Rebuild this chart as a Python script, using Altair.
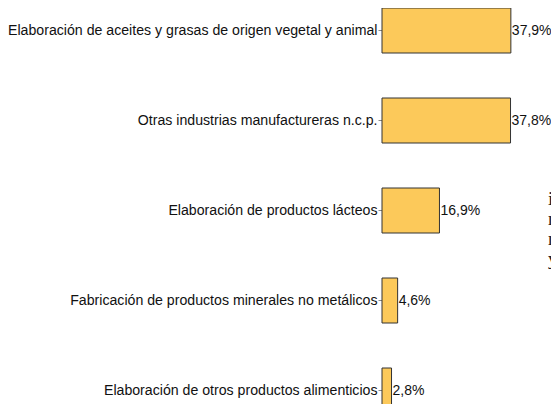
import altair as alt
import pandas as pd

categories = [
    "Elaboración de aceites y grasas de origen vegetal y animal",
    "Otras industrias manufactureras n.c.p.",
    "Elaboración de productos lácteos",
    "Fabricación de productos minerales no metálicos",
    "Elaboración de otros productos alimenticios",
]
values = [37.9, 37.8, 16.9, 4.6, 2.8]
value_labels = ["37,9%", "37,8%", "16,9%", "4,6%", "2,8%"]
side_note = ["i", "n", "n", "y"]

df = pd.DataFrame({"cat": categories, "value": values, "label": value_labels})

yenc = alt.Y(
    "cat:N",
    sort=categories,
    title=None,
    scale=alt.Scale(paddingInner=0.5, paddingOuter=0, range=[0, 405]),
    axis=alt.Axis(
        domain=False,
        ticks=True,
        tickSize=4,
        tickColor="#888888",
        labelPadding=1,
        labelFont="Liberation Sans",
        labelFontSize=14.15,
        labelColor="#111111",
        labelLimit=0,
        grid=False,
    ),
)
xenc = alt.X("value:Q", scale=alt.Scale(domain=[0, 100], range=[0, 340]), axis=None)

base = alt.Chart(df).encode(y=yenc)
bars = base.mark_bar(fill="#FCC95A", stroke="#333333", strokeWidth=1).encode(x=xenc)
texts = base.mark_text(
    align="left", baseline="middle", dx=1, font="Liberation Sans", fontSize=14, color="#111111"
).encode(x=xenc, text="label:N")

note = alt.Chart(pd.DataFrame({"a": [0]})).mark_text(
    text=side_note,
    align="left",
    baseline="alphabetic",
    font="Liberation Serif",
    fontSize=19,
    lineHeight=20,
    color="#222222",
).encode(x=alt.value(166), y=alt.value(197))

chart = (
    alt.layer(bars, texts, note)
    .properties(
        width=169,
        height=396,
        autosize=alt.AutoSizeParams(type="none"),
        padding={"left": 374, "top": 0, "right": 0, "bottom": 0},
    )
    .configure_view(stroke=None)
)

chart.save("out.html", embed_options={"renderer": "svg", "actions": False})
